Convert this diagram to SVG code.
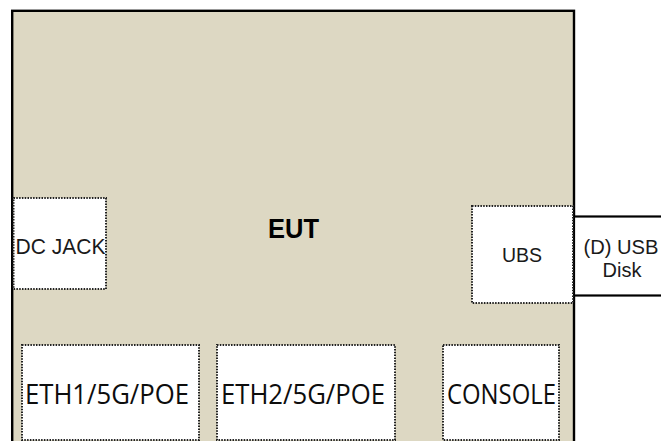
<svg xmlns="http://www.w3.org/2000/svg" width="661" height="441" viewBox="0 0 661 441">
  <style>
    .eut { fill: #DDD8C3; stroke: #000; stroke-width: 2.4; }
    .port { fill: #FFFFFF; stroke: #222; stroke-width: 2; stroke-dasharray: 1.5 1.3; }
    .ext { fill: #FFFFFF; stroke: #000; stroke-width: 2.2; }
    .lbl { font-family: "Liberation Sans", Arial, sans-serif; fill: #1a1a1a; text-anchor: middle; }
    .lblc { font-family: "Open Sans", "Noto Sans", sans-serif; fill: #0d0d0d; text-anchor: middle; }
    .title { font-family: "Liberation Sans", Arial, sans-serif; font-weight: bold; fill: #000; text-anchor: middle; }
  </style>

  <!-- equipment under test -->
  <g id="eut">
    <rect class="eut" x="12.2" y="10.8" width="561.8" height="440"/>
    <text class="title" x="293.5" y="238" font-size="27" textLength="51" lengthAdjust="spacingAndGlyphs">EUT</text>
  </g>

  <!-- external USB disk attached on the right -->
  <g id="usb-disk">
    <rect class="ext" x="574" y="216.5" width="100" height="79"/>
    <text class="lbl" x="621" y="254" font-size="20" textLength="75" lengthAdjust="spacingAndGlyphs">(D) USB</text>
    <text class="lbl" x="622" y="277" font-size="20">Disk</text>
  </g>

  <g id="dc-jack">
    <rect class="port" x="13.5" y="198" width="92.5" height="91"/>
    <text class="lbl" x="60.5" y="254" font-size="21.5" textLength="90" lengthAdjust="spacingAndGlyphs">DC JACK</text>
  </g>

  <g id="ubs">
    <rect class="port" x="472" y="206" width="101" height="97"/>
    <text class="lbl" x="522" y="262" font-size="19.5">UBS</text>
  </g>

  <g id="eth1">
    <rect class="port" x="22" y="345" width="177" height="95"/>
    <text class="lblc" x="107" y="404" font-size="27.5" textLength="164" lengthAdjust="spacingAndGlyphs">ETH1/5G/POE</text>
  </g>

  <g id="eth2">
    <rect class="port" x="217" y="345" width="178" height="95"/>
    <text class="lblc" x="303" y="404" font-size="27.5" textLength="164" lengthAdjust="spacingAndGlyphs">ETH2/5G/POE</text>
  </g>

  <g id="console">
    <rect class="port" x="443" y="345" width="116" height="95"/>
    <text class="lblc" x="501.5" y="404" font-size="27.5" textLength="109" lengthAdjust="spacingAndGlyphs">CONSOLE</text>
  </g>
</svg>
